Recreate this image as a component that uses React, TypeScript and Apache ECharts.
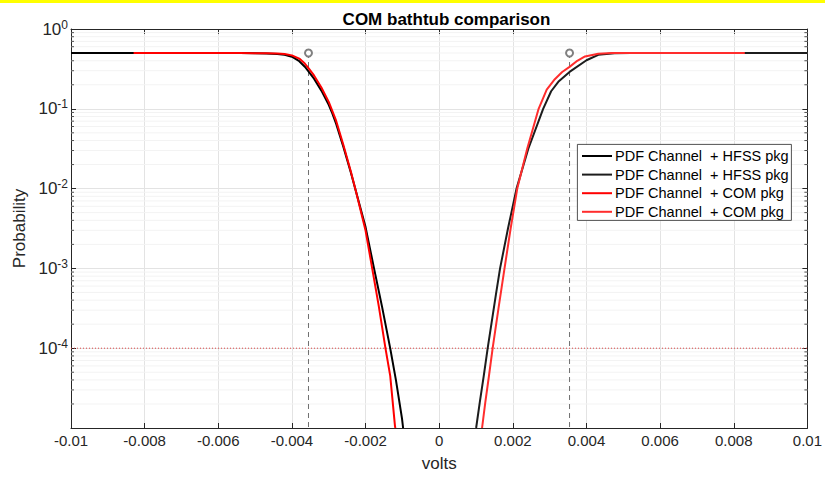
import React, { useEffect, useRef } from "react";
import * as echarts from "echarts";

const TITLE = "COM bathtub comparison";
const X_NAME = "volts";
const Y_NAME = "Probability";
const X_MIN = -0.01;
const X_MAX = 0.01;
const X_STEP = 0.002;
const Y_MIN = 1e-5;
const Y_MAX = 1;

// PDF Channel + HFSS pkg (black), left and right halves
const hfssLeft: [number, number][] = [
  [-0.01, 0.5], [-0.008, 0.5], [-0.006, 0.5], [-0.0054, 0.499], [-0.005, 0.497],
  [-0.0047, 0.494], [-0.0044, 0.487], [-0.0042, 0.476], [-0.004, 0.45], [-0.0038, 0.395],
  [-0.00365, 0.337], [-0.00355, 0.295], [-0.0034, 0.239], [-0.0032, 0.169], [-0.003, 0.112],
  [-0.00292, 0.0918], [-0.0028, 0.0652], [-0.0026, 0.0331], [-0.0024, 0.0159], [-0.00226, 0.00918],
  [-0.002, 0.00329], [-0.00177, 0.001], [-0.00155, 0.000327], [-0.00133, 0.0000995],
  [-0.001175, 0.0000398], [-0.00101, 0.0000131], [-0.00098, 0.00001],
];
const hfssRight: [number, number][] = [
  [0.001003, 0.00001], [0.0011, 0.0000206], [0.00121, 0.000045], [0.001317, 0.0001], [0.00154, 0.000468],
  [0.001653, 0.001], [0.001868, 0.00316], [0.0021, 0.01], [0.00242, 0.0316], [0.002823, 0.1],
  [0.00304, 0.166], [0.00325, 0.222], [0.00354, 0.29], [0.004, 0.406], [0.00432, 0.475],
  [0.00476, 0.497], [0.0052, 0.5], [0.008, 0.5], [0.01, 0.5],
];
// PDF Channel + COM pkg (red), left and right halves
const comLeft: [number, number][] = [
  [-0.0083, 0.5], [-0.006, 0.5], [-0.0054, 0.5], [-0.005, 0.498], [-0.0047, 0.496],
  [-0.0044, 0.492], [-0.0042, 0.487], [-0.004, 0.467], [-0.0038, 0.426], [-0.00365, 0.369],
  [-0.00355, 0.323], [-0.0034, 0.262], [-0.0032, 0.185], [-0.003, 0.122], [-0.0028, 0.071],
  [-0.0026, 0.035], [-0.0024, 0.0164], [-0.00226, 0.00918], [-0.002, 0.00298], [-0.00182, 0.001],
  [-0.00164, 0.000335], [-0.00146, 0.0001], [-0.00133, 0.000045], [-0.0012, 0.0000105],
  [-0.00119, 0.00001],
];
const comRight: [number, number][] = [
  [0.001164, 0.00001], [0.00125, 0.0000207], [0.00135, 0.0000445], [0.001452, 0.0001], [0.00161, 0.000316],
  [0.001774, 0.001], [0.00194, 0.00316], [0.00212, 0.01], [0.00239, 0.0316], [0.0027, 0.1],
  [0.00292, 0.174], [0.00314, 0.235], [0.00334, 0.289], [0.00354, 0.335], [0.00375, 0.4],
  [0.00396, 0.453], [0.00432, 0.49], [0.0047, 0.499], [0.0052, 0.5], [0.0083, 0.5],
];

const legendLabels = [
  "PDF Channel  + HFSS pkg",
  "PDF Channel  + HFSS pkg",
  "PDF Channel  + COM pkg",
  "PDF Channel  + COM pkg",
];
const seriesColors = ["#000000", "#1c1c1c", "#ff0000", "#ff2d2d"];
const seriesData = [hfssLeft, hfssRight, comLeft, comRight];

const markerX = [-0.00355, 0.00354];
const markerTopP = 0.5;
const thresholdP = 1e-4;

// minor tick positions of the log axis (2..9 x 10^e)
const minorDecades = [-5, -4, -3, -2, -1];
const minorMultipliers = [2, 3, 4, 5, 6, 7, 8, 9];

const FONT = "'Liberation Sans', Arial, sans-serif";
const AX = "#262626";

export default function App() {
  const ref = useRef<HTMLDivElement>(null);
  useEffect(() => {
    if (!ref.current) return;
    const chart = echarts.init(ref.current, undefined, { renderer: "svg" });

    const minorVals: number[][] = [];
    minorDecades.forEach((e) =>
      minorMultipliers.forEach((k) => minorVals.push([X_MIN, k * Math.pow(10, e)]))
    );

    const lineSeries: any[] = legendLabels.map((label, i) => ({
      name: label,
      type: "line",
      data: seriesData[i],
      symbol: "none",
      smooth: false,
      lineStyle: { color: seriesColors[i], width: 2, join: "round" },
      itemStyle: { color: seriesColors[i] },
      z: i < 2 ? 3 : 4,
      clip: true,
    }));

    const markerSeries: any[] = markerX.map((x, i) => ({
      name: "marker" + i,
      type: "line",
      data: [
        { value: [x, markerTopP], symbol: "emptyCircle", symbolSize: 7 },
        { value: [x, Y_MIN], symbol: "none" },
      ],
      lineStyle: { color: "#707070", width: 1, type: [5, 4] },
      itemStyle: { color: "#808080", borderWidth: 0.9 },
      z: 2,
      silent: true,
    }));

    const thresholdSeries = {
      name: "threshold",
      type: "line",
      data: [
        [X_MIN, thresholdP],
        [X_MAX, thresholdP],
      ],
      symbol: "none",
      silent: true,
      lineStyle: { color: "#e04848", width: 1, type: [1, 2] },
      z: 2,
    };

    const minorSeries = {
      name: "minor",
      type: "custom",
      silent: true,
      z: 1,
      data: minorVals,
      renderItem: (params: any, api: any) => {
        const cs = params.coordSys;
        const y = api.coord([X_MIN, api.value(1)])[1];
        return {
          type: "group",
          children: [
            {
              type: "line",
              shape: { x1: cs.x, y1: y, x2: cs.x + cs.width, y2: y },
              style: { stroke: "#f3f3f3", lineWidth: 1 },
            },
            {
              type: "line",
              shape: { x1: cs.x, y1: y, x2: cs.x + 3, y2: y },
              style: { stroke: AX, lineWidth: 0.8 },
            },
            {
              type: "line",
              shape: { x1: cs.x + cs.width - 3, y1: y, x2: cs.x + cs.width, y2: y },
              style: { stroke: AX, lineWidth: 0.8 },
            },
          ],
        };
      },
    };

    const fmtX = (v: number) => {
      const r = parseFloat(v.toFixed(4));
      return r === 0 ? "0" : String(r);
    };

    // legend drawn as graphic (labels repeat)
    const LG = { x: 577, y: 144, w: 214, h: 76, row0: 12, rowStep: 18.6, lineX: 5, lineLen: 30, textGap: 3 };
    const legendGraphics: any[] = [
      {
        type: "rect",
        left: LG.x,
        top: LG.y,
        z: 100,
        silent: true,
        shape: { x: 0, y: 0, width: LG.w, height: LG.h },
        style: { fill: "#ffffff", stroke: AX, lineWidth: 0.8 },
      },
    ];
    legendLabels.forEach((label, i) => {
      const cy = LG.y + LG.row0 + i * LG.rowStep;
      legendGraphics.push({
        type: "rect",
        silent: true,
        z: 101,
        shape: { x: LG.x + LG.lineX, y: cy - 1, width: LG.lineLen, height: 2 },
        style: { fill: seriesColors[i] },
      });
      legendGraphics.push({
        type: "text",
        silent: true,
        z: 101,
        x: LG.x + LG.lineX + LG.lineLen + LG.textGap,
        y: cy,
        style: {
          text: label,
          fill: "#000000",
          fontSize: 14.5,
          fontFamily: FONT,
          verticalAlign: "middle",
          align: "left",
        },
      });
    });

    chart.setOption({
      animation: false,
      backgroundColor: "#ffffff",
      textStyle: { fontFamily: FONT },
      title: {
        text: TITLE,
        left: 441.5,
        textAlign: "center",
        top: 6,
        textStyle: { fontFamily: FONT, fontSize: 17, fontWeight: "bold", color: "#000" },
      },
      graphic: [
        { type: "rect", shape: { x: 0, y: 0, width: 825, height: 3 }, style: { fill: "#ffff00" }, silent: true, z: 100 },
        ...legendGraphics,
      ],
      grid: { left: 71, right: 13, top: 29, bottom: 47 },
      xAxis: [
        {
          type: "value",
          min: X_MIN,
          max: X_MAX,
          interval: X_STEP,
          name: X_NAME,
          nameLocation: "middle",
          nameGap: 27,
          nameTextStyle: { fontFamily: FONT, fontSize: 17, color: AX },
          axisLine: { show: true, onZero: false, lineStyle: { color: AX, width: 1 } },
          axisTick: { show: true, inside: true, length: 5, lineStyle: { color: AX } },
          axisLabel: { formatter: fmtX, fontFamily: FONT, fontSize: 15, color: AX, margin: 5 },
          splitLine: { show: true, lineStyle: { color: "#e3e3e3", width: 1 } },
        },
        {
          type: "value",
          position: "top",
          min: X_MIN,
          max: X_MAX,
          interval: X_STEP,
          axisLine: { show: true, onZero: false, lineStyle: { color: AX, width: 1 } },
          axisTick: { show: true, inside: true, length: 5, lineStyle: { color: AX } },
          axisLabel: { show: false },
          splitLine: { show: false },
        },
      ],
      yAxis: [
        {
          type: "log",
          logBase: 10,
          min: Y_MIN,
          max: Y_MAX,
          name: Y_NAME,
          nameLocation: "middle",
          nameGap: 40,
          nameTextStyle: { fontFamily: FONT, fontSize: 17, color: AX },
          axisLine: { show: true, onZero: false, lineStyle: { color: AX, width: 1 } },
          axisTick: { show: true, inside: true, length: 5, lineStyle: { color: AX } },
          axisLabel: {
            margin: 3,
            formatter: (v: number) => {
              const e = Math.round(Math.log10(v));
              if (e <= -5) return "";
              return "{b|10}{s|" + e + "}";
            },
            rich: {
              b: { fontFamily: FONT, fontSize: 17, color: AX },
              s: { fontFamily: FONT, fontSize: 12, color: AX, padding: [0, 0, 9, 0] },
            },
          },
          splitLine: { show: true, lineStyle: { color: "#e3e3e3", width: 1 } },
        },
        {
          type: "log",
          logBase: 10,
          min: Y_MIN,
          max: Y_MAX,
          position: "right",
          axisLine: { show: true, onZero: false, lineStyle: { color: AX, width: 1 } },
          axisTick: { show: true, inside: true, length: 5, lineStyle: { color: AX } },
          axisLabel: { show: false },
          splitLine: { show: false },
        },
      ],
      series: [minorSeries, thresholdSeries, ...markerSeries, ...lineSeries],
    });
    return () => chart.dispose();
  }, []);
  return (
    <div
      ref={ref}
      style={{ position: "fixed", left: 0, top: 0, width: 825, height: 477, background: "#fff" }}
    />
  );
}
